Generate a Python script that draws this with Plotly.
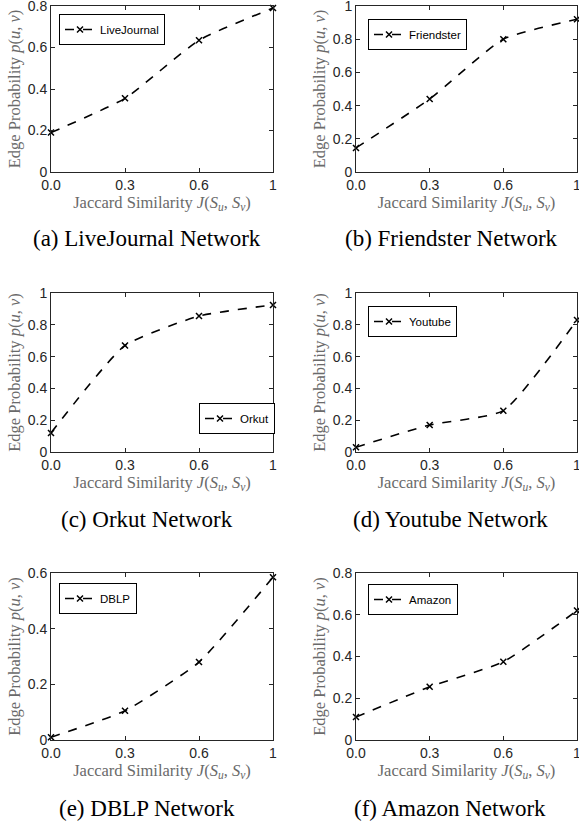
import plotly.graph_objects as go

W, H = 579, 821

x_labels = ["0.0", "0.3", "0.6", "1"]

names = ["LiveJournal", "Friendster", "Orkut", "Youtube", "DBLP", "Amazon"]
captions = ["(a) LiveJournal Network", "(b) Friendster Network", "(c) Orkut Network",
            "(d) Youtube Network", "(e) DBLP Network", "(f) Amazon Network"]

livejournal = [0.19, 0.355, 0.635, 0.79]
friendster = [0.145, 0.44, 0.80, 0.92]
orkut = [0.12, 0.67, 0.855, 0.925]
youtube = [0.03, 0.17, 0.26, 0.83]
dblp = [0.01, 0.105, 0.28, 0.585]
amazon = [0.11, 0.255, 0.375, 0.62]
series = [livejournal, friendster, orkut, youtube, dblp, amazon]

y_max = [0.8, 1, 1, 1, 0.6, 0.8]

# layout in pixels
col_x = [(51, 273), (356, 577)]
row_y = [(6, 172), (293, 452), (573, 740)]
legend_px = [(59, 14), (368, 19), (199, 403), (368, 306), (59, 583), (368, 584)]
caption_px = [(147, 238), (451, 238), (147, 519), (450, 519), (147, 808), (450, 808)]

def px_x(x):
    return x / W

def px_y(y):
    return 1 - y / H

fig = go.Figure()
axis_color = "#262626"
title_color = "#6a6a6a"
serif = "Liberation Serif, Times New Roman, serif"
sans = "Liberation Sans, Arial, sans-serif"

for i, (name, vals) in enumerate(zip(names, series)):
    r, c = divmod(i, 2)
    k = i + 1
    xa = "x" if k == 1 else f"x{k}"
    ya = "y" if k == 1 else f"y{k}"
    lg = "legend" if k == 1 else f"legend{k}"
    fig.add_trace(go.Scatter(
        x=x_labels, y=vals, name=name, xaxis=xa, yaxis=ya, legend=lg,
        mode="lines+markers", cliponaxis=False,
        line=dict(color="black", dash="dash", width=1.6, shape="spline", smoothing=0.5),
        marker=dict(symbol="x-thin", size=6, line=dict(color="black", width=1.5), color="black"),
        showlegend=True,
    ))
    x0, x1 = col_x[c]
    y0, y1 = row_y[r]
    common = dict(showline=True, mirror="ticks", linecolor=axis_color, linewidth=1,
                  ticks="inside", ticklen=4, tickcolor=axis_color, showgrid=False,
                  zeroline=False, automargin=False, ticklabeloverflow="allow",
                  tickfont=dict(family=sans, size=14, color=axis_color))
    fig.layout[f"xaxis{'' if k == 1 else k}"] = dict(
        domain=[px_x(x0), px_x(x1)], anchor=ya, type="category", range=[0, 3],
        title=dict(text="Jaccard Similarity <i>J</i>(<i>S<sub>u</sub></i>, <i>S<sub>v</sub></i>)",
                   font=dict(family=serif, size=16.5, color=title_color),
                   standoff=0),
        **common)
    fig.layout[f"yaxis{'' if k == 1 else k}"] = dict(
        domain=[px_y(y1), px_y(y0)], anchor=xa, range=[0, y_max[i]], dtick=0.2,
        title=dict(text="Edge Probability <i>p</i>(<i>u</i>, <i>v</i>)",
                   font=dict(family=serif, size=16.5, color=title_color),
                   standoff=2),
        **common)
    lx, ly = legend_px[i]
    fig.layout[lg] = dict(
        x=px_x(lx), y=px_y(ly), xanchor="left", yanchor="top",
        bgcolor="white", bordercolor="black", borderwidth=1,
        font=dict(family=sans, size=11.5, color="black"),
        itemwidth=30, tracegroupgap=0,
    )
    cx, cy = caption_px[i]
    fig.add_annotation(x=px_x(cx), y=px_y(cy), xref="paper", yref="paper",
                       text=captions[i], showarrow=False, xanchor="center", yanchor="middle",
                       font=dict(family=serif, size=23, color="black"))

fig.update_layout(width=W, height=H, margin=dict(l=0, r=0, t=0, b=0),
                  paper_bgcolor="white", plot_bgcolor="white")

fig.write_html("out.html", config={"displayModeBar": False},
               post_script="document.body.style.margin='0';document.body.style.overflow='hidden';")
